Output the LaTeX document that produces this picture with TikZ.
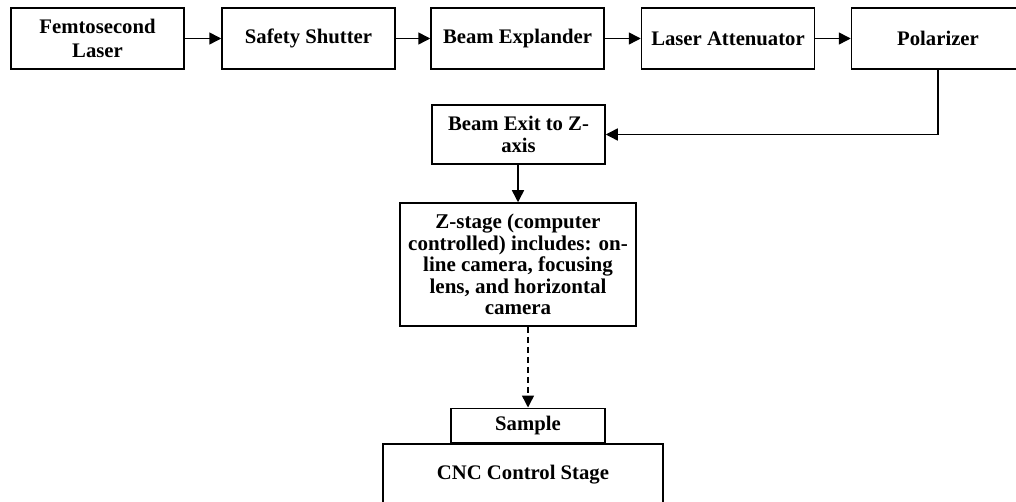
\documentclass[tikz,border=0pt]{standalone}
\usepackage{fontspec}
\setmainfont{Liberation Serif}
\usetikzlibrary{arrows.meta}
\tikzset{
  box/.style={draw=black, line width=1.5pt, rectangle, inner sep=0pt, align=center,
    font=\bfseries\fontsize{20.7pt}{24pt}\selectfont},
  toprow/.style={box, minimum width=173pt, minimum height=61pt},
  arr/.style={draw=black, line width=1.5pt, -{Triangle[length=12pt,width=12pt]}},
}
\begin{document}
\begin{tikzpicture}[x=1pt,y=-1pt]
\useasboundingbox (0,0) rectangle (1016,502);
\clip (0,0) rectangle (1016,502);
\node[toprow] (femto) at (97.5,38.5) {Femtosecond\\Laser};
\node[toprow] (shutter) at (308.5,38.5) {Safety Shutter};
\node[toprow] (expander) at (517.5,38.5) {Beam Explander};
\node[toprow] (atten) at (728,38.5) {Laser Attenuator};
\node[toprow] (pol) at (938,38.5) {Polarizer};
\node[box, minimum width=173pt, minimum height=59pt, font=\bfseries\fontsize{20.7pt}{22.5pt}\selectfont] (exit) at (518.5,134.5) {Beam Exit to Z-\\axis};
\node[box, minimum width=236pt, minimum height=123pt,
  font=\bfseries\fontsize{21pt}{21.5pt}\selectfont] (zstage) at (518,264.5)
  {Z-stage (computer\\controlled) includes: on-\\line camera, focusing\\lens, and horizontal\\camera};
\node[box, minimum width=280pt, minimum height=61pt, anchor=north] (cnc) at (523,443) {CNC Control Stage};
\node[box, minimum width=154pt, minimum height=34pt, anchor=south] (sample) at (528,443) {Sample};
\draw[arr] (femto) -- (shutter);
\draw[arr] (shutter) -- (expander);
\draw[arr] (expander) -- (atten);
\draw[arr] (atten) -- (pol);
\draw[arr] (pol.south) |- (exit.east);
\draw[arr] (exit.south -| zstage.north) -- (zstage.north);
\draw[arr, dash pattern=on 6pt off 4pt] (zstage.south -| sample.north) -- (sample.north);
\end{tikzpicture}
\end{document}
